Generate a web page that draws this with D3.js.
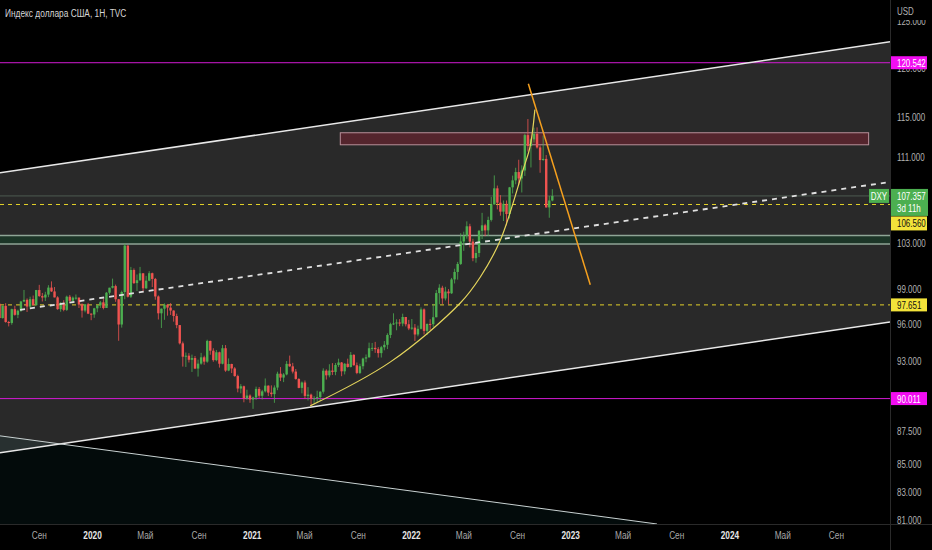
<!DOCTYPE html>
<html>
<head>
<meta charset="utf-8">
<script src="https://cdnjs.cloudflare.com/ajax/libs/d3/7.8.5/d3.min.js"></script>
<style>
  body { margin: 0; background: #000; }
  svg text { font-family: "Liberation Sans", "DejaVu Sans", sans-serif; }
</style>
</head>
<body>
<svg id="chart" width="932" height="550"></svg>
<script>
// weekly candles: [week start, open, high, low, close]
var candles2019 = [
  ['2019-05-27', 97.62, 98.37, 97.55, 97.75], ['2019-06-03', 97.75, 97.85, 96.46, 96.54],
  ['2019-06-10', 96.54, 97.58, 96.50, 97.57], ['2019-06-17', 97.57, 97.80, 96.15, 96.21],
  ['2019-06-24', 96.21, 96.30, 95.84, 96.13], ['2019-07-01', 96.13, 97.33, 95.98, 97.29],
  ['2019-07-08', 97.29, 97.58, 96.74, 96.81], ['2019-07-15', 96.81, 97.25, 96.53, 97.16],
  ['2019-07-22', 97.16, 98.00, 97.06, 97.94], ['2019-07-29', 97.94, 98.93, 97.88, 98.08],
  ['2019-08-05', 98.08, 98.20, 97.05, 97.51], ['2019-08-12', 97.51, 98.35, 97.31, 98.14],
  ['2019-08-19', 98.14, 98.45, 97.62, 97.63], ['2019-08-26', 97.63, 98.93, 97.58, 98.92],
  ['2019-09-02', 98.92, 99.37, 98.34, 98.40], ['2019-09-09', 98.40, 98.67, 97.94, 98.28],
  ['2019-09-16', 98.28, 98.77, 97.98, 98.53], ['2019-09-23', 98.53, 99.34, 98.31, 99.13],
  ['2019-09-30', 99.13, 99.67, 98.76, 98.80], ['2019-10-07', 98.80, 99.18, 98.29, 98.29],
  ['2019-10-14', 98.29, 98.39, 97.24, 97.29], ['2019-10-21', 97.29, 97.88, 97.07, 97.83],
  ['2019-10-28', 97.83, 98.05, 97.11, 97.23], ['2019-11-04', 97.23, 98.44, 97.14, 98.35],
  ['2019-11-11', 98.35, 98.50, 97.80, 98.00], ['2019-11-18', 98.00, 98.37, 97.77, 98.27],
  ['2019-11-25', 98.27, 98.54, 98.09, 98.27], ['2019-12-02', 98.27, 98.28, 97.39, 97.68],
  ['2019-12-09', 97.68, 97.79, 96.58, 97.17], ['2019-12-16', 97.17, 97.73, 97.02, 97.70],
  ['2019-12-23', 97.70, 97.82, 96.87, 96.91], ['2019-12-30', 96.91, 96.93, 96.36, 96.84]
];
var candles2020 = [
  ['2020-01-06', 96.84, 97.40, 96.56, 97.36], ['2020-01-13', 97.36, 97.65, 97.03, 97.61],
  ['2020-01-20', 97.61, 97.99, 97.39, 97.87], ['2020-01-27', 97.87, 98.19, 97.27, 97.39],
  ['2020-02-03', 97.39, 98.75, 97.39, 98.69], ['2020-02-10', 98.69, 99.12, 98.52, 99.12],
  ['2020-02-17', 99.12, 99.91, 99.06, 99.26], ['2020-02-24', 99.26, 99.39, 97.91, 98.13],
  ['2020-03-02', 98.13, 98.16, 94.65, 96.00], ['2020-03-09', 96.00, 98.87, 95.74, 98.75],
  ['2020-03-16', 98.75, 102.99, 98.13, 102.82], ['2020-03-23', 102.82, 102.85, 98.28, 98.35],
  ['2020-03-30', 98.35, 100.93, 98.24, 100.66], ['2020-04-06', 100.66, 100.80, 99.44, 99.52],
  ['2020-04-13', 99.52, 100.27, 98.84, 99.77], ['2020-04-20', 99.77, 100.93, 99.70, 100.37],
  ['2020-04-27', 100.37, 100.40, 98.81, 99.07], ['2020-05-04', 99.07, 100.15, 99.02, 99.73],
  ['2020-05-11', 99.73, 100.56, 99.68, 100.38], ['2020-05-18', 100.38, 100.43, 99.18, 99.88],
  ['2020-05-25', 99.88, 99.97, 98.09, 98.37], ['2020-06-01', 98.37, 98.46, 96.42, 96.94],
  ['2020-06-08', 96.94, 97.35, 95.71, 97.33], ['2020-06-15', 97.33, 97.78, 96.39, 97.66],
  ['2020-06-22', 97.66, 97.73, 96.74, 97.42], ['2020-06-29', 97.42, 97.80, 96.80, 97.17],
  ['2020-07-06', 97.17, 97.20, 96.24, 96.71], ['2020-07-13', 96.71, 96.91, 95.69, 95.95],
  ['2020-07-20', 95.95, 95.95, 94.35, 94.44], ['2020-07-27', 94.44, 94.59, 92.55, 93.35],
  ['2020-08-03', 93.35, 93.69, 92.52, 93.43], ['2020-08-10', 93.43, 93.64, 92.88, 93.10],
  ['2020-08-17', 93.10, 93.52, 92.12, 93.24], ['2020-08-24', 93.24, 93.41, 92.35, 92.39],
  ['2020-08-31', 92.39, 93.11, 91.75, 92.79], ['2020-09-07', 92.79, 93.66, 92.70, 93.30],
  ['2020-09-14', 93.30, 93.43, 92.70, 92.95], ['2020-09-21', 92.95, 94.74, 92.86, 94.64],
  ['2020-09-28', 94.64, 94.66, 93.51, 93.84], ['2020-10-05', 93.84, 94.04, 92.94, 93.07],
  ['2020-10-12', 93.07, 93.90, 92.98, 93.71], ['2020-10-19', 93.71, 93.76, 92.47, 92.78],
  ['2020-10-26', 92.78, 94.31, 92.73, 94.04], ['2020-11-02', 94.04, 94.30, 92.13, 92.23],
  ['2020-11-09', 92.23, 93.21, 92.18, 92.76], ['2020-11-16', 92.76, 92.78, 92.03, 92.40],
  ['2020-11-23', 92.40, 92.51, 91.74, 91.79], ['2020-11-30', 91.79, 91.90, 90.50, 90.80],
  ['2020-12-07', 90.80, 91.15, 90.42, 90.98], ['2020-12-14', 90.98, 91.03, 89.72, 90.02],
  ['2020-12-21', 90.02, 90.71, 89.92, 90.25], ['2020-12-28', 90.25, 90.34, 89.68, 89.94]
];
var candles2021 = [
  ['2021-01-04', 89.94, 90.16, 89.21, 90.10], ['2021-01-11', 90.10, 90.95, 89.91, 90.77],
  ['2021-01-18', 90.77, 90.92, 90.05, 90.23], ['2021-01-25', 90.23, 90.70, 89.94, 90.58],
  ['2021-02-01', 90.58, 91.60, 90.49, 91.03], ['2021-02-08', 91.03, 91.05, 90.21, 90.48],
  ['2021-02-15', 90.48, 91.05, 90.15, 90.36], ['2021-02-22', 90.36, 91.05, 89.68, 90.88],
  ['2021-03-01', 90.88, 92.14, 90.67, 91.98], ['2021-03-08', 91.98, 92.51, 91.39, 91.67],
  ['2021-03-15', 91.67, 92.03, 91.31, 91.92], ['2021-03-22', 91.92, 93.00, 91.85, 92.77],
  ['2021-03-29', 92.77, 93.44, 92.53, 92.57], ['2021-04-05', 92.57, 92.85, 92.00, 92.15],
  ['2021-04-12', 92.15, 92.36, 91.50, 91.56], ['2021-04-19', 91.56, 91.62, 90.82, 90.85],
  ['2021-04-26', 90.85, 91.36, 90.42, 91.28], ['2021-05-03', 91.28, 91.44, 89.98, 90.22],
  ['2021-05-10', 90.22, 90.91, 89.86, 90.32], ['2021-05-17', 90.32, 90.40, 89.53, 90.00],
  ['2021-05-24', 90.00, 90.20, 89.66, 90.03], ['2021-05-31', 90.03, 90.63, 89.66, 90.13],
  ['2021-06-07', 90.13, 90.59, 89.81, 90.55], ['2021-06-14', 90.55, 92.41, 90.40, 92.22],
  ['2021-06-21', 92.22, 92.33, 91.51, 91.85], ['2021-06-28', 91.85, 92.74, 91.69, 92.23],
  ['2021-07-05', 92.23, 92.83, 91.88, 92.12], ['2021-07-12', 92.12, 92.84, 91.86, 92.68],
  ['2021-07-19', 92.68, 93.19, 92.52, 92.88], ['2021-07-26', 92.88, 92.92, 91.78, 92.17],
  ['2021-08-02', 92.17, 92.83, 91.92, 92.78], ['2021-08-09', 92.78, 93.19, 92.47, 92.52],
  ['2021-08-16', 92.52, 93.73, 92.48, 93.50], ['2021-08-23', 93.50, 93.55, 92.62, 92.66],
  ['2021-08-30', 92.66, 92.88, 91.94, 92.04], ['2021-09-06', 92.04, 92.78, 91.95, 92.58],
  ['2021-09-13', 92.58, 93.27, 92.33, 93.20], ['2021-09-20', 93.20, 93.53, 92.90, 93.30],
  ['2021-09-27', 93.30, 94.50, 93.27, 94.04], ['2021-10-04', 94.04, 94.47, 93.81, 94.07],
  ['2021-10-11', 94.07, 94.56, 93.66, 93.96], ['2021-10-18', 93.96, 94.13, 93.28, 93.64],
  ['2021-10-25', 93.64, 94.23, 93.28, 94.12], ['2021-11-01', 94.12, 94.63, 93.87, 94.32],
  ['2021-11-08', 94.32, 95.27, 93.97, 95.13], ['2021-11-15', 95.13, 96.15, 94.87, 96.03],
  ['2021-11-22', 96.03, 96.94, 95.96, 96.09], ['2021-11-29', 96.09, 96.44, 95.52, 96.17],
  ['2021-12-06', 96.17, 96.45, 95.86, 96.08], ['2021-12-13', 96.08, 96.91, 95.85, 96.63],
  ['2021-12-20', 96.63, 96.63, 95.84, 96.02], ['2021-12-27', 96.02, 96.39, 95.53, 95.67]
];
var candles2022 = [
  ['2022-01-03', 95.67, 96.46, 95.56, 95.74], ['2022-01-10', 95.74, 96.04, 94.63, 95.17],
  ['2022-01-17', 95.17, 95.91, 95.02, 95.64], ['2022-01-24', 95.64, 97.44, 95.59, 97.27],
  ['2022-01-31', 97.27, 97.35, 95.17, 95.47], ['2022-02-07', 95.47, 96.08, 95.13, 96.05],
  ['2022-02-14', 96.05, 96.44, 95.53, 96.03], ['2022-02-21', 96.03, 97.74, 95.80, 96.61],
  ['2022-02-28', 96.61, 98.92, 96.60, 98.66], ['2022-03-07', 98.66, 99.42, 97.71, 99.12],
  ['2022-03-14', 99.12, 99.29, 97.73, 98.20], ['2022-03-21', 98.20, 99.20, 98.03, 98.79],
  ['2022-03-28', 98.79, 99.00, 97.69, 98.64], ['2022-04-04', 98.64, 99.97, 98.59, 99.84],
  ['2022-04-11', 99.84, 100.77, 99.49, 100.49], ['2022-04-18', 100.49, 101.37, 99.82, 101.19],
  ['2022-04-25', 101.19, 103.93, 101.10, 103.19], ['2022-05-02', 103.19, 104.07, 102.35, 103.69],
  ['2022-05-09', 103.69, 105.01, 103.44, 104.56], ['2022-05-16', 104.56, 104.79, 102.66, 103.18],
  ['2022-05-23', 103.18, 103.43, 101.43, 101.70], ['2022-05-30', 101.70, 102.74, 101.30, 102.16],
  ['2022-06-06', 102.16, 104.23, 101.80, 104.15], ['2022-06-13', 104.15, 105.79, 103.41, 104.65],
  ['2022-06-20', 104.65, 104.79, 103.66, 104.19], ['2022-06-27', 104.19, 105.44, 103.68, 105.14],
  ['2022-07-04', 105.14, 107.27, 104.99, 106.57], ['2022-07-11', 106.57, 109.29, 106.56, 108.07],
  ['2022-07-18', 108.07, 108.33, 106.11, 106.73], ['2022-07-25', 106.73, 107.43, 105.53, 105.90],
  ['2022-08-01', 105.90, 106.93, 105.04, 106.62], ['2022-08-08', 106.62, 106.93, 104.64, 105.68],
  ['2022-08-15', 105.68, 108.20, 105.27, 108.16], ['2022-08-22', 108.16, 109.27, 107.59, 108.82],
  ['2022-08-29', 108.82, 110.02, 108.45, 109.61], ['2022-09-05', 109.61, 110.79, 108.35, 109.00],
  ['2022-09-12', 109.00, 110.25, 107.68, 109.76], ['2022-09-19', 109.76, 113.33, 109.24, 113.19],
  ['2022-09-26', 113.19, 114.78, 111.58, 112.12], ['2022-10-03', 112.12, 112.85, 110.05, 112.77],
  ['2022-10-10', 112.77, 113.92, 112.46, 113.31], ['2022-10-17', 113.31, 113.95, 111.87, 111.98],
  ['2022-10-24', 111.98, 112.18, 109.54, 110.76], ['2022-10-31', 110.76, 113.15, 110.69, 110.87],
  ['2022-11-07', 110.87, 111.24, 106.28, 106.29], ['2022-11-14', 106.29, 107.36, 105.34, 106.93],
  ['2022-11-21', 106.93, 107.99, 106.85, 107.357]
];

// 107.000 sits fully under the last-price block, so it is not drawn
var priceTicks = [125, 120, 115, 111, 103, 99, 96, 93, 87.5, 85, 83, 81];
var timeTickDates = ['2019-09-01', '2020-01-01', '2020-05-01', '2020-09-01', '2021-01-01', '2021-05-01',
  '2021-09-01', '2022-01-01', '2022-05-01', '2022-09-01', '2023-01-01', '2023-05-01', '2023-09-01',
  '2024-01-01', '2024-05-01', '2024-09-01'];
var timeTickLabels = ['Сен', '2020', 'Май', 'Сен', '2021', 'Май', 'Сен', '2022', 'Май', 'Сен', '2023',
  'Май', 'Сен', '2024', 'Май', 'Сен'];

// horizontal levels
var magentaLevels = [120.542, 90.011];
var dashedLevels = [106.560, 97.651];
var lastPrice = 107.357;
var supportBand = [102.97, 103.72];
var resistBox = [['2021-07-23', 113.42], ['2024-11-15', 112.24]];

// trend drawings, [date, price]
var channelUpper = [['2019-06-04', 109.54], ['2025-01-03', 122.75]];
var channelLower = [['2019-06-04', 85.86], ['2025-01-03', 96.22]];
var channelMid = [['2019-07-20', 97.23], ['2025-01-03', 108.67]];
var fallLine = [['2019-06-04', 87.14], ['2023-07-19', 80.71]];
var peakLine = [['2022-09-27', 118.36], ['2023-02-16', 99.37]];
var arcPoints = [['2021-05-15', 89.44], ['2021-11-15', 92.93], ['2022-04-24', 97.81], ['2022-06-09', 100.05],
  ['2022-07-25', 103.32], ['2022-09-15', 109.83], ['2022-10-01', 112.05], ['2022-10-12', 115.72]];

var W = 932, H = 550, plotW = 890, plotH = 524;
var SX = 0.76; // the screenshot squeezes glyphs horizontally
var parse = d3.timeParse('%Y-%m-%d');
var candles = [].concat(candles2019, candles2020, candles2021, candles2022).map(function(r) {
  return { date: parse(r[0]), o: r[1], h: r[2], l: r[3], c: r[4] };
});

var x = d3.scaleTime().domain([parse('2019-06-04'), parse('2025-01-03')]).range([0, plotW]);
var y = d3.scaleLog().domain([80.71, 127.3]).range([plotH, 0]);
function pt(p) { return [x(parse(p[0])), y(p[1])]; }
var fmt = d3.format('.3f');

var svg = d3.select('#chart');
svg.append('rect').attr('width', W).attr('height', H).attr('fill', '#000');

function label(tx, ty, str, size, fill, anchor) {
  return svg.append('text')
    .attr('transform', 'translate(' + tx + ',' + ty + ') scale(' + SX + ',1)')
    .attr('text-anchor', anchor || 'start')
    .attr('font-size', size).attr('fill', fill).text(str);
}

svg.append('clipPath').attr('id', 'plotClip')
  .append('rect').attr('width', plotW).attr('height', plotH);
var plot = svg.append('g').attr('clip-path', 'url(#plotClip)');

// channel fill
var cu = channelUpper.map(pt), cl = channelLower.map(pt);
plot.append('path')
  .attr('d', d3.line()([cu[0], cu[1], cl[1], cl[0]]) + 'Z')
  .attr('fill', '#292929');

// falling line shade
var fl = fallLine.map(pt);
plot.append('path')
  .attr('d', d3.line()([fl[0], fl[1], [fl[1][0], plotH + 5], [0, plotH + 5]]) + 'Z')
  .attr('fill', 'rgba(30,120,125,0.09)');

// support band
plot.append('rect')
  .attr('x', 0).attr('width', plotW)
  .attr('y', y(supportBand[1])).attr('height', y(supportBand[0]) - y(supportBand[1]))
  .attr('fill', '#1c3527');
plot.selectAll('.band-line').data(supportBand).enter().append('line')
  .attr('class', 'band-line')
  .attr('x1', 0).attr('x2', plotW)
  .attr('y1', function(d) { return y(d); }).attr('y2', function(d) { return y(d); })
  .attr('stroke', '#8fa596').attr('stroke-width', 1.5);

// magenta levels
plot.selectAll('.mag').data(magentaLevels).enter().append('line')
  .attr('x1', 0).attr('x2', plotW)
  .attr('y1', function(d) { return y(d); }).attr('y2', function(d) { return y(d); })
  .attr('stroke', '#d21ad2').attr('stroke-width', 1);

// last price line
plot.append('line')
  .attr('x1', 0).attr('x2', plotW).attr('y1', y(lastPrice)).attr('y2', y(lastPrice))
  .attr('stroke', '#4d5a50').attr('stroke-width', 1);

// yellow dashed levels
plot.selectAll('.ydash').data(dashedLevels).enter().append('line')
  .attr('x1', 0).attr('x2', plotW)
  .attr('y1', function(d) { return y(d); }).attr('y2', function(d) { return y(d); })
  .attr('stroke', '#e3d22a').attr('stroke-width', 1).attr('stroke-dasharray', '4,4');

// resistance box
var rb = resistBox.map(pt);
plot.append('rect')
  .attr('x', rb[0][0]).attr('y', rb[0][1])
  .attr('width', rb[1][0] - rb[0][0]).attr('height', rb[1][1] - rb[0][1])
  .attr('fill', 'rgba(120,35,50,0.55)').attr('stroke', '#b9909a').attr('stroke-width', 1);

// candles
var cg = plot.append('g');
cg.selectAll('.wick').data(candles).enter().append('line')
  .attr('x1', function(d) { return x(d.date); }).attr('x2', function(d) { return x(d.date); })
  .attr('y1', function(d) { return y(d.h); }).attr('y2', function(d) { return y(d.l); })
  .attr('stroke', function(d) { return d.c >= d.o ? '#4caf50' : '#ef5350'; })
  .attr('stroke-width', 0.8);
cg.selectAll('.body').data(candles).enter().append('rect')
  .attr('x', function(d) { return x(d.date) - 1.2; })
  .attr('width', 2.4)
  .attr('y', function(d) { return y(Math.max(d.o, d.c)); })
  .attr('height', function(d) { return Math.max(1, Math.abs(y(d.o) - y(d.c))); })
  .attr('fill', function(d) { return d.c >= d.o ? '#4caf50' : '#ef5350'; });

// channel lines
[channelUpper, channelLower].forEach(function(l) {
  plot.append('path').attr('d', d3.line()(l.map(pt)))
    .attr('stroke', '#e8e8e8').attr('stroke-width', 1.5).attr('fill', 'none');
});
plot.append('path').attr('d', d3.line()(fl))
  .attr('stroke', '#c9d2d2').attr('stroke-width', 1).attr('fill', 'none');
plot.append('path').attr('d', d3.line()(channelMid.map(pt)))
  .attr('stroke', '#e0e0e0').attr('stroke-width', 1.8).attr('stroke-dasharray', '5,5').attr('fill', 'none');

// arc + peak line
plot.append('path').attr('d', d3.line().curve(d3.curveCatmullRom)(arcPoints.map(pt)))
  .attr('stroke', '#e5d55c').attr('stroke-width', 1.2).attr('fill', 'none');
plot.append('path').attr('d', d3.line()(peakLine.map(pt)))
  .attr('stroke', '#f5a01e').attr('stroke-width', 1.5).attr('fill', 'none');

// separators
svg.append('line').attr('x1', plotW + 0.5).attr('x2', plotW + 0.5).attr('y1', 0).attr('y2', H)
  .attr('stroke', '#2a2a2a');
svg.append('line').attr('x1', 0).attr('x2', W).attr('y1', plotH + 0.5).attr('y2', plotH + 0.5)
  .attr('stroke', '#2a2a2a');

// price axis
var yAxis = svg.append('g').attr('transform', 'translate(' + (plotW + 7) + ',0)')
  .call(d3.axisRight(y).tickValues(priceTicks).tickFormat(fmt).tickSize(0));
yAxis.select('.domain').remove();
yAxis.selectAll('text')
  .attr('fill', '#b2b2b2').attr('font-size', 10.5).attr('x', 0)
  .attr('transform', 'scale(' + SX + ',1)');

// time axis
var xAxis = svg.append('g').attr('transform', 'translate(0,' + (plotH + 4) + ')')
  .call(d3.axisBottom(x).tickValues(timeTickDates.map(parse))
    .tickFormat(function(d, i) { return timeTickLabels[i]; }).tickSize(0));
xAxis.select('.domain').remove();
xAxis.selectAll('text')
  .attr('font-size', 11.5)
  .attr('transform', 'scale(0.72,1)')
  .attr('fill', function(d, i) { return /^\d/.test(timeTickLabels[i]) ? '#e6e6e6' : '#a8a8a8'; })
  .attr('font-weight', function(d, i) { return /^\d/.test(timeTickLabels[i]) ? 'bold' : 'normal'; });

// USD header covering the top tick
svg.append('rect').attr('x', plotW + 1).attr('y', 0).attr('width', W - plotW - 1).attr('height', 20).attr('fill', '#000');
label(plotW + 7, 15, 'USD', 10.5, '#b2b2b2');

// level labels on the price axis
function axisLabel(yc, text, bg, fg, h) {
  svg.append('rect').attr('x', plotW + 1).attr('y', yc - 6.5).attr('width', 36).attr('height', h || 13).attr('fill', bg);
  label(plotW + 7, yc + 4, text, 10.5, fg);
}
magentaLevels.forEach(function(v) { axisLabel(y(v), fmt(v), '#f20df2', '#fff'); });
axisLabel(y(dashedLevels[1]), fmt(dashedLevels[1]), '#f3e33a', '#111');

// last price block + symbol tag
var yl = y(lastPrice);
svg.append('rect').attr('x', plotW + 1).attr('y', yl - 7).attr('width', 37).attr('height', 27).attr('fill', '#4caf50');
label(plotW + 7, yl + 4, fmt(lastPrice), 10.5, '#fff');
label(plotW + 7, yl + 16, '3d 11h', 10.5, '#fff');
axisLabel(yl + 27, fmt(dashedLevels[0]), '#f3e33a', '#111', 14);
svg.append('rect').attr('x', plotW - 21).attr('y', yl - 7).attr('width', 20).attr('height', 14).attr('fill', '#4caf50');
label(plotW - 11, yl + 4, 'DXY', 10.5, '#fff', 'middle');

// title
label(5, 17, 'Индекс доллара США, 1H, TVC', 11, '#d6d6d6');
</script>
</body>
</html>
